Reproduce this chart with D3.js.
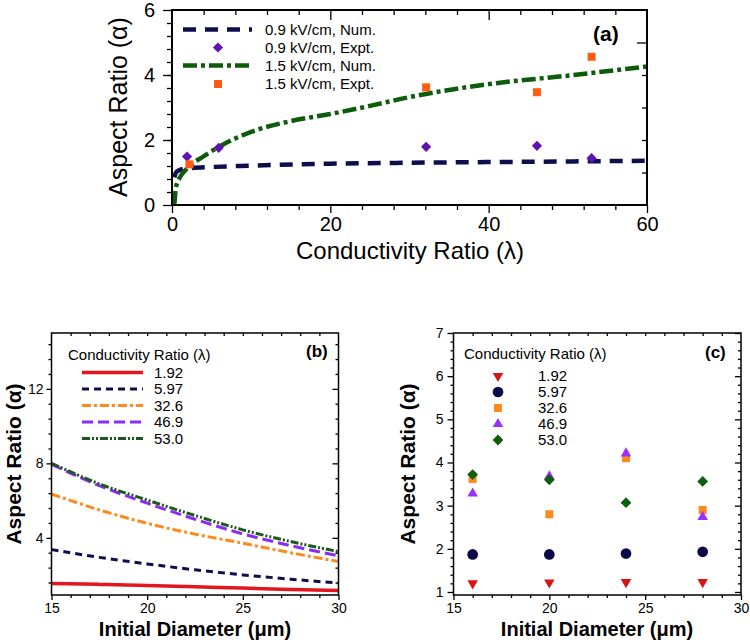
<!DOCTYPE html>
<html>
<head>
<meta charset="utf-8">
<script src="https://cdn.jsdelivr.net/npm/d3@7"></script>
<style>
body { margin: 0; background: #fff; }
svg { font-family: "Liberation Sans", Arial, sans-serif; }
</style>
</head>
<body>
<svg id="chart" width="750" height="644"></svg>
<script>
// ---- panel (a): aspect ratio vs conductivity ratio ----
var num09Lambda = [0.3, 0.5, 1, 2, 5, 10, 20, 30, 40, 50, 60];
var num09Alpha = [0.85, 1.0, 1.08, 1.13, 1.17, 1.21, 1.27, 1.3, 1.32, 1.34, 1.36];
var num15Lambda = [0.3, 0.5, 1, 2, 4, 6, 10, 15, 20, 25, 30, 40, 50, 60];
var num15Alpha = [0, 0.55, 0.85, 1.15, 1.5, 1.8, 2.25, 2.58, 2.8, 3.05, 3.32, 3.72, 3.98, 4.26];
var expt09Lambda = [1.9, 5.9, 32.1, 46.1, 53.0];
var expt09Alpha = [1.49, 1.76, 1.79, 1.82, 1.44];
var expt15Lambda = [2.2, 32.1, 46.1, 53.0];
var expt15Alpha = [1.25, 3.62, 3.47, 4.56];
var legendA = ["0.9 kV/cm, Num.", "0.9 kV/cm, Expt.", "1.5 kV/cm, Num.", "1.5 kV/cm, Expt."];

// ---- panel (b): numerical aspect ratio vs initial diameter ----
var ratioLabels = ["1.92", "5.97", "32.6", "46.9", "53.0"];
var diameters = [15, 17.5, 20, 22.5, 25, 27.5, 30];
var num192 = [1.55, 1.5, 1.44, 1.37, 1.30, 1.23, 1.17];
var num597 = [3.37, 2.95, 2.6, 2.28, 2.01, 1.78, 1.57];
var num326 = [6.35, 5.5, 4.78, 4.2, 3.71, 3.2, 2.73];
var num469 = [7.95, 6.8, 5.86, 5.0, 4.21, 3.58, 3.03];
var num530 = [8.0, 6.9, 6.03, 5.2, 4.43, 3.8, 3.26];

// ---- panel (c): experimental aspect ratio vs initial diameter ----
var exptDiameters = [16, 20, 24, 28];
var expt192 = [1.20, 1.22, 1.23, 1.23];
var expt597 = [1.87, 1.87, 1.89, 1.93];
var expt326 = [3.62, 2.80, 4.10, 2.90];
var expt469 = [3.28, 3.68, 4.21, 2.74];
var expt530 = [3.72, 3.60, 3.07, 3.56];

var svg = d3.select("#chart");

var navy = "#0e0e4e", green = "#0c5c0c", purpleA = "#5f12b4", orangeA = "#ff5c12";
var colorsB = ["#e3161f", "#0e0e4e", "#ff8a1c", "#8c2cf2", "#1c5a1c"];
var dashesB = [null, "7,5", "9,3,3,3", "11,5", "8,2,2,2,2,2"];

function zip(xs, ys) {
    return xs.map(function(v, i) { return [v, ys[i]]; });
}

// draw a tick set with d3's axis, dropping the domain line
function tickSet(g, axis, tx, ty, fontSize, bold) {
    var t = g.append("g")
        .attr("transform", "translate(" + tx + "," + ty + ")")
        .call(axis);
    t.select(".domain").remove();
    t.selectAll(".tick line").attr("stroke", "#000").attr("stroke-width", 1.3);
    t.selectAll("text")
        .attr("font-family", null)
        .attr("font-size", fontSize || 10)
        .attr("font-weight", bold ? "bold" : null)
        .attr("fill", "#000");
    t.attr("font-family", null);
    return t;
}

function border(g, x, y, w) {
    g.append("rect")
        .attr("x", x.range()[0])
        .attr("y", y.range()[1])
        .attr("width", x.range()[1] - x.range()[0])
        .attr("height", y.range()[0] - y.range()[1])
        .attr("fill", "none")
        .attr("stroke", "#000")
        .attr("stroke-width", w);
}

/*************
 panel (a)
**************/
var xa = d3.scaleLinear().domain([0, 60]).range([172, 647]);
var ya = d3.scaleLinear().domain([0, 6]).range([205, 10]);
var ga = svg.append("g");

var lineA = d3.line()
    .x(function(d) { return xa(d[0]); })
    .y(function(d) { return ya(d[1]); })
    .curve(d3.curveMonotoneX);

ga.append("path")
    .datum(zip(num09Lambda, num09Alpha))
    .attr("d", lineA)
    .attr("fill", "none")
    .attr("stroke", navy)
    .attr("stroke-width", 4.5)
    .attr("stroke-dasharray", "13,9");

ga.append("path")
    .datum(zip(num15Lambda, num15Alpha))
    .attr("d", lineA)
    .attr("fill", "none")
    .attr("stroke", green)
    .attr("stroke-width", 4.5)
    .attr("stroke-dasharray", "14,4,4,4");

var diamond = d3.symbol().type(d3.symbolSquare).size(52);
var square = d3.symbol().type(d3.symbolSquare).size(64);

ga.selectAll(".d09")
    .data(zip(expt09Lambda, expt09Alpha))
    .enter().append("path")
    .attr("class", "d09")
    .attr("d", diamond)
    .attr("transform", function(d) { return "translate(" + xa(d[0]) + "," + ya(d[1]) + ") rotate(45)"; })
    .attr("fill", purpleA);

ga.selectAll(".d15")
    .data(zip(expt15Lambda, expt15Alpha))
    .enter().append("path")
    .attr("class", "d15")
    .attr("d", square)
    .attr("transform", function(d) { return "translate(" + xa(d[0]) + "," + ya(d[1]) + ")"; })
    .attr("fill", orangeA);

border(ga, xa, ya, 2);

// ticks (a)
tickSet(ga, d3.axisLeft(ya).tickValues([0, 2, 4, 6]).tickSize(9).tickPadding(8).tickFormat(d3.format("d")), 172, 0, 20);
tickSet(ga, d3.axisLeft(ya).tickValues(d3.range(0.4, 6, 0.4)).tickSize(5).tickFormat(""), 172, 0);
tickSet(ga, d3.axisBottom(xa).tickValues([0, 20, 40, 60]).tickSize(8).tickPadding(4).tickFormat(d3.format("d")), 0, 205, 20);
tickSet(ga, d3.axisBottom(xa).tickValues([4, 8, 12, 16, 24, 28, 32, 36, 44, 48, 52, 56]).tickSize(5).tickFormat(""), 0, 205);
tickSet(ga, d3.axisTop(xa).tickValues([4, 8, 12, 16, 24, 28, 32, 36, 44, 48, 52, 56]).tickSize(-5).tickFormat(""), 0, 10);
tickSet(ga, d3.axisTop(xa).tickValues([20, 40]).tickSize(-10).tickFormat(""), 0, 10);
tickSet(ga, d3.axisRight(ya).tickValues([1, 2, 3, 4]).tickSize(-5).tickFormat(""), 647, 0);
tickSet(ga, d3.axisRight(ya).tickValues([5]).tickSize(-10).tickFormat(""), 647, 0);

ga.append("text")
    .attr("x", 410).attr("y", 259)
    .attr("text-anchor", "middle")
    .attr("font-size", 24)
    .text("Conductivity Ratio (λ)");

ga.append("text")
    .attr("transform", "translate(127,107) rotate(-90)")
    .attr("text-anchor", "middle")
    .attr("font-size", 25)
    .text("Aspect Ratio (α)");

ga.append("text")
    .attr("x", 593).attr("y", 41)
    .attr("font-size", 21)
    .attr("font-weight", "bold")
    .text("(a)");

// legend (a)
var legA = ga.append("g");
var rowA = [29.5, 47.5, 65.5, 84];
legA.append("line").attr("x1", 183).attr("x2", 252).attr("y1", rowA[0]).attr("y2", rowA[0])
    .attr("stroke", navy).attr("stroke-width", 4.5).attr("stroke-dasharray", "13,9");
legA.append("path").attr("d", diamond).attr("transform", "translate(218," + rowA[1] + ") rotate(45)").attr("fill", purpleA);
legA.append("line").attr("x1", 183).attr("x2", 252).attr("y1", rowA[2]).attr("y2", rowA[2])
    .attr("stroke", green).attr("stroke-width", 4.5).attr("stroke-dasharray", "14,4,4,4");
legA.append("path").attr("d", square).attr("transform", "translate(218," + rowA[3] + ")").attr("fill", orangeA);
legA.selectAll("text")
    .data(legendA)
    .enter().append("text")
    .attr("x", 265)
    .attr("y", function(d, i) { return rowA[i]; })
    .attr("dy", "0.35em")
    .attr("font-size", 15)
    .text(function(d) { return d; });

/*************
 panel (b)
**************/
var xb = d3.scaleLinear().domain([15, 30]).range([51.5, 338.5]);
var yb = d3.scaleLinear().domain([0.93, 15]).range([595, 333]);
var gb = svg.append("g");

var lineB = d3.line()
    .x(function(d) { return xb(d[0]); })
    .y(function(d) { return yb(d[1]); })
    .curve(d3.curveMonotoneX);

var seriesB = [num192, num597, num326, num469, num530];
seriesB.forEach(function(s, i) {
    gb.append("path")
        .datum(zip(diameters, s))
        .attr("d", lineB)
        .attr("fill", "none")
        .attr("stroke", colorsB[i])
        .attr("stroke-width", i == 0 ? 3.5 : 3)
        .attr("stroke-dasharray", dashesB[i]);
});

border(gb, xb, yb, 1.5);

var minorB = d3.range(1.6, 15, 0.8).filter(function(v) { return Math.abs(v % 4) > 0.1 && Math.abs(v % 4 - 4) > 0.1; });
tickSet(gb, d3.axisLeft(yb).tickValues([4, 8, 12]).tickSize(5).tickPadding(3).tickFormat(d3.format("d")), 51.5, 0, 14);
tickSet(gb, d3.axisLeft(yb).tickValues(minorB).tickSize(3).tickFormat(""), 51.5, 0);
tickSet(gb, d3.axisRight(yb).tickValues([4, 8, 12]).tickSize(-6).tickFormat(""), 338.5, 0);
tickSet(gb, d3.axisRight(yb).tickValues(minorB).tickSize(-3).tickFormat(""), 338.5, 0);
tickSet(gb, d3.axisBottom(xb).tickValues([15, 20, 25, 30]).tickSize(5).tickPadding(3).tickFormat(d3.format("d")), 0, 595, 14);
tickSet(gb, d3.axisBottom(xb).tickValues(d3.range(16, 30, 1).filter(function(v) { return v % 5; })).tickSize(3).tickFormat(""), 0, 595);
tickSet(gb, d3.axisTop(xb).tickValues(d3.range(16, 30, 1)).tickSize(-3).tickFormat(""), 0, 333);

gb.append("text")
    .attr("x", 195).attr("y", 636)
    .attr("text-anchor", "middle")
    .attr("font-size", 20)
    .attr("font-weight", "bold")
    .text("Initial Diameter (μm)");

gb.append("text")
    .attr("transform", "translate(21,464) rotate(-90)")
    .attr("text-anchor", "middle")
    .attr("font-size", 21)
    .attr("font-weight", "bold")
    .text("Aspect Ratio (α)");

gb.append("text")
    .attr("x", 306).attr("y", 357)
    .attr("font-size", 17)
    .attr("font-weight", "bold")
    .text("(b)");

gb.append("text")
    .attr("x", 68).attr("y", 355)
    .attr("dy", "0.35em")
    .attr("font-size", 15)
    .text("Conductivity Ratio (λ)");

ratioLabels.forEach(function(lab, i) {
    var yy = 372.5 + i * 16.5;
    gb.append("line")
        .attr("x1", 82).attr("x2", 143).attr("y1", yy).attr("y2", yy)
        .attr("stroke", colorsB[i])
        .attr("stroke-width", i == 0 ? 3.5 : 3)
        .attr("stroke-dasharray", dashesB[i]);
    gb.append("text")
        .attr("x", 154).attr("y", yy)
        .attr("dy", "0.35em")
        .attr("font-size", 15)
        .text(lab);
});

/*************
 panel (c)
**************/
var xc = d3.scaleLinear().domain([15, 30]).range([453.5, 741]);
var yc = d3.scaleLinear().domain([0.93, 7]).range([595, 333]);
var gc = svg.append("g");

var colorsC = ["#d91414", "#0a0a48", "#ff8a1c", "#9a30ff", "#0e5e0e"];
var symC = [
    { type: d3.symbolTriangle, size: 48, rot: 180 },
    { type: d3.symbolCircle, size: 90, rot: 0 },
    { type: d3.symbolSquare, size: 64, rot: 0 },
    { type: d3.symbolTriangle, size: 48, rot: 0 },
    { type: d3.symbolSquare, size: 58, rot: 45 }
];
var seriesC = [expt192, expt597, expt326, expt469, expt530];

seriesC.forEach(function(s, i) {
    var sym = d3.symbol().type(symC[i].type).size(symC[i].size);
    gc.selectAll(".c" + i)
        .data(zip(exptDiameters, s))
        .enter().append("path")
        .attr("class", "c" + i)
        .attr("d", sym)
        .attr("transform", function(d) { return "translate(" + xc(d[0]) + "," + yc(d[1]) + ") rotate(" + symC[i].rot + ")"; })
        .attr("fill", colorsC[i]);
});

border(gc, xc, yc, 1.5);

var minorC = d3.range(1.2, 7, 0.2).filter(function(v) { return Math.abs(v - Math.round(v)) > 0.05; });
tickSet(gc, d3.axisLeft(yc).tickValues(d3.range(1, 8)).tickSize(6).tickPadding(4).tickFormat(d3.format("d")), 453.5, 0, 14);
tickSet(gc, d3.axisLeft(yc).tickValues(minorC).tickSize(3).tickFormat(""), 453.5, 0);
tickSet(gc, d3.axisRight(yc).tickValues(d3.range(1, 8)).tickSize(-6).tickFormat(""), 741, 0);
tickSet(gc, d3.axisRight(yc).tickValues(minorC).tickSize(-3).tickFormat(""), 741, 0);
tickSet(gc, d3.axisBottom(xc).tickValues([15, 20, 25, 30]).tickSize(5).tickPadding(3).tickFormat(d3.format("d")), 0, 595, 14);
tickSet(gc, d3.axisBottom(xc).tickValues(d3.range(16, 30, 1).filter(function(v) { return v % 5; })).tickSize(3).tickFormat(""), 0, 595);
tickSet(gc, d3.axisTop(xc).tickValues(d3.range(16, 30, 1)).tickSize(-3).tickFormat(""), 0, 333);

gc.append("text")
    .attr("x", 597).attr("y", 636)
    .attr("text-anchor", "middle")
    .attr("font-size", 20)
    .attr("font-weight", "bold")
    .text("Initial Diameter (μm)");

gc.append("text")
    .attr("transform", "translate(415,464) rotate(-90)")
    .attr("text-anchor", "middle")
    .attr("font-size", 21)
    .attr("font-weight", "bold")
    .text("Aspect Ratio (α)");

gc.append("text")
    .attr("x", 705).attr("y", 358)
    .attr("font-size", 17)
    .attr("font-weight", "bold")
    .text("(c)");

gc.append("text")
    .attr("x", 464).attr("y", 354)
    .attr("dy", "0.35em")
    .attr("font-size", 15)
    .text("Conductivity Ratio (λ)");

ratioLabels.forEach(function(lab, i) {
    var yy = 376 + i * 16;
    var sym = d3.symbol().type(symC[i].type).size(symC[i].size);
    gc.append("path")
        .attr("d", sym)
        .attr("transform", "translate(498," + yy + ") rotate(" + symC[i].rot + ")")
        .attr("fill", colorsC[i]);
    gc.append("text")
        .attr("x", 538).attr("y", yy)
        .attr("dy", "0.35em")
        .attr("font-size", 15)
        .text(lab);
});
</script>
</body>
</html>
